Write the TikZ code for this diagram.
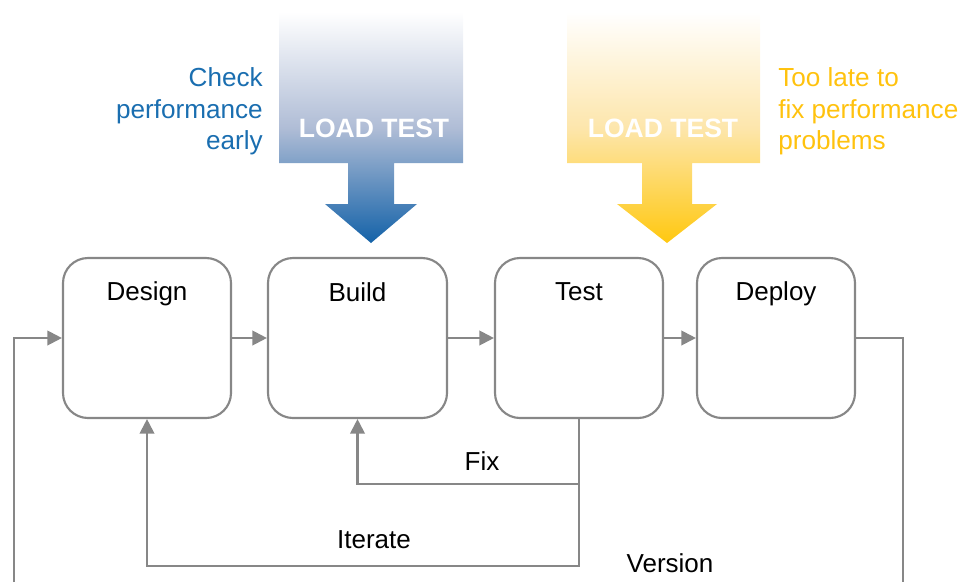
\documentclass[tikz,border=0pt]{standalone}
\usepackage{fontspec}
\setmainfont{Liberation Sans}
\usetikzlibrary{arrows.meta}
\definecolor{linegray}{HTML}{878787}
\definecolor{txtblue}{HTML}{1A6EB0}
\definecolor{txtyellow}{HTML}{FFC20E}
\definecolor{arrblue}{HTML}{1462A8}
\definecolor{arrbluemid}{HTML}{B0BDD6}
\definecolor{arryellow}{HTML}{FFC810}
\definecolor{arryellowmid}{HTML}{FDE6AC}
\tikzset{
  stagebox/.style={draw=linegray, line width=1.6pt, rounded corners=18.75pt, minimum height=120pt, inner sep=0pt},
  stagelabel/.style={anchor=base, inner sep=0pt, font=\fontsize{19.5}{23.6}\selectfont},
  flowline/.style={draw=linegray, line width=1.6pt},
  flowarrow/.style={flowline, -{Triangle[length=11pt,width=11pt]}},
  loadtext/.style={anchor=base, inner sep=0pt, text=white, font=\bfseries\fontsize{19.9}{23.6}\selectfont},
  notetext/.style={inner sep=0pt, font=\fontsize{19.6}{23.6}\selectfont}
}
\begin{document}
\begin{tikzpicture}[x=0.75pt, y=-0.75pt]
\useasboundingbox (0,0) rectangle (977,582);
% block arrows
\shade[top color=white, bottom color=arrblue, middle color=arrbluemid]
  (279,12) -- (463,12) -- (463,163) -- (394,163) -- (394,204) -- (417,204) -- (371,243) -- (325,204) -- (348,204) -- (348,163) -- (279,163) -- cycle;
\shade[top color=white, bottom color=arryellow, middle color=arryellowmid]
  (567,12) -- (760,12) -- (760,163) -- (692,163) -- (692,204) -- (717,204) -- (667,243) -- (617,204) -- (642,204) -- (642,163) -- (567,163) -- cycle;
\node[loadtext] (lt1) at (374,137) {LOAD TEST};
\node[loadtext] (lt2) at (663,137) {LOAD TEST};
% notes
\node[notetext, text=txtblue, align=right, anchor=east] (early) at (263,111.5) {Check\\performance\\early};
\node[notetext, text=txtyellow, align=left, anchor=west] (late) at (778,111.5) {Too late to\\fix performance\\problems};
% stages
\node[stagebox, minimum width=126pt] (design) at (147,338) {};
\node[stagebox, minimum width=134.25pt] (build) at (357.5,338) {};
\node[stagebox, minimum width=126pt] (test) at (579,338) {};
\node[stagebox, minimum width=118.5pt] (deploy) at (776,338) {};
\node[stagelabel] (ldesign) at (147,300) {Design};
\node[stagelabel] (lbuild) at (357.5,301) {Build};
\node[stagelabel] (ltest) at (579,300) {Test};
\node[stagelabel] (ldeploy) at (776,300) {Deploy};
% forward flow
\draw[flowarrow] (design.east) -- (build.west);
\draw[flowarrow] (build.east) -- (test.west);
\draw[flowarrow] (test.east) -- (deploy.west);
% coordinates
\coordinate (vtop) at (903,338);
\coordinate (vbot) at (903,582);
\coordinate (ltop) at (14,338);
\coordinate (lbot) at (14,582);
\coordinate (fixj) at (579,484);
\coordinate (itj) at (579,566);
\draw[flowline] (deploy.east) -- (vtop) -- (vbot);
\draw[flowarrow] (lbot) -- (ltop) -- (design.west);
\draw[flowarrow] (test.south) -- (itj) -| (design.south);
\draw[flowarrow] (fixj) -| (build.south);
% labels
\node[stagelabel] (lfix) at (482,470) {Fix};
\node[stagelabel] (lit) at (374,548) {Iterate};
\node[stagelabel] (lver) at (670,572) {Version};
\end{tikzpicture}
\end{document}
